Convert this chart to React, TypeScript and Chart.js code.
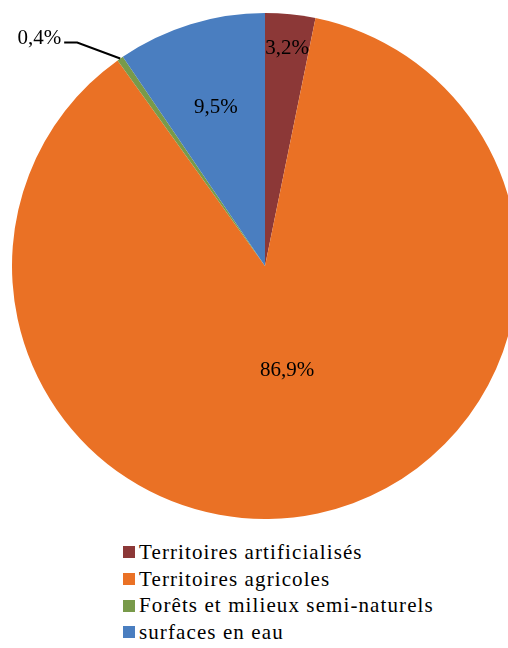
import React, { useEffect, useRef } from "react";
import { Chart, registerables } from "chart.js";

Chart.register(...registerables);

const categories = [
  "Territoires artificialisés",
  "Territoires agricoles",
  "Forêts et milieux semi-naturels",
  "surfaces en eau",
];
const shares = [3.2, 86.9, 0.4, 9.5];
const valueLabels = ["3,2%", "86,9%", "0,4%", "9,5%"];
const colors = ["#8C3837", "#EA7125", "#789A4A", "#4A7EC0"];

// label placement (fraction of radius); negative = outside with leader
const labelRadius = [0.87, 0.42, -1, 0.66];

const FONT = "'Liberation Serif', 'Times New Roman', serif";

const labelPlugin = {
  id: "sliceLabels",
  afterDatasetsDraw(chart: any) {
    const ctx = chart.ctx;
    const meta = chart.getDatasetMeta(0);
    ctx.save();
    ctx.font = "21px " + FONT;
    ctx.fillStyle = "#000";
    meta.data.forEach((arc: any, i: number) => {
      const p = arc.getProps(["x", "y", "startAngle", "endAngle", "outerRadius"], true);
      const mid = (p.startAngle + p.endAngle) / 2;
      const f = labelRadius[i];
      if (f > 0) {
        const r = p.outerRadius * f;
        const lx = p.x + Math.cos(mid) * r;
        const ly = p.y + Math.sin(mid) * r;
        ctx.textAlign = "center";
        ctx.textBaseline = "middle";
        ctx.fillText(valueLabels[i], lx, ly + 1);
      } else {
        const ex = p.x + Math.cos(mid) * p.outerRadius;
        const ey = p.y + Math.sin(mid) * p.outerRadius;
        const kx = ex - 43;
        const ky = ey - 16;
        ctx.strokeStyle = "#000";
        ctx.lineWidth = 2;
        ctx.beginPath();
        ctx.moveTo(ex, ey);
        ctx.lineTo(kx, ky);
        ctx.lineTo(kx - 13, ky);
        ctx.stroke();
        ctx.textAlign = "right";
        ctx.textBaseline = "alphabetic";
        ctx.fillText(valueLabels[i], kx - 16, ky + 1);
      }
    });
    ctx.restore();
  },
};

export default function App() {
  const ref = useRef<HTMLCanvasElement>(null);
  useEffect(() => {
    if (!ref.current) return;
    const chart = new Chart(ref.current, {
      type: "pie",
      data: {
        labels: categories,
        datasets: [
          {
            data: shares,
            backgroundColor: colors,
            borderWidth: 0,
          },
        ],
      },
      options: {
        responsive: false,
        animation: false,
        layout: { padding: 12 },
        plugins: {
          legend: { display: false },
          tooltip: { enabled: false },
        },
      },
      plugins: [labelPlugin],
    });
    return () => chart.destroy();
  }, []);

  return (
    <div
      style={{
        position: "fixed",
        left: 0,
        top: 0,
        width: 508,
        height: 648,
        overflow: "hidden",
        background: "#fff",
      }}
    >
      <canvas
        ref={ref}
        width={530}
        height={532}
        style={{ position: "absolute", left: 0, top: 0, width: 530, height: 532 }}
      />
      <div
        style={{
          position: "absolute",
          left: 123,
          top: 539,
          fontFamily: FONT,
          fontSize: 21,
          letterSpacing: 1.1,
          color: "#000",
        }}
      >
        {categories.map((c, i) => (
          <div
            key={c}
            style={{ display: "flex", alignItems: "center", height: 26.7, whiteSpace: "nowrap" }}
          >
            <span
              style={{
                display: "inline-block",
                width: 12,
                height: 12,
                background: colors[i],
                marginRight: 4,
                flex: "none",
              }}
            />
            <span>{c}</span>
          </div>
        ))}
      </div>
    </div>
  );
}
